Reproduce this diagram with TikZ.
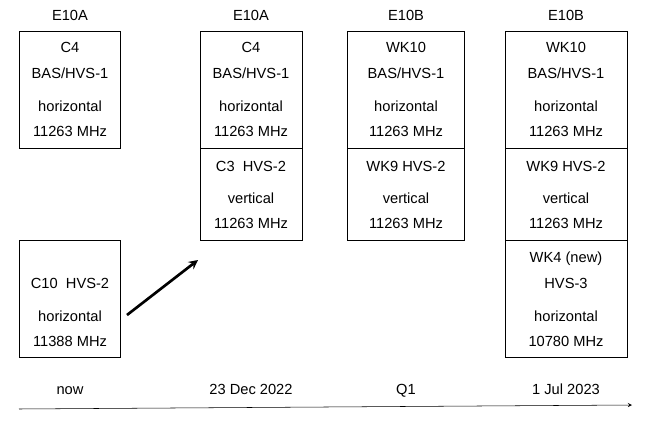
\documentclass[tikz,border=0pt]{standalone}
\usepackage{fontspec}
\setmainfont{Liberation Sans}
\begin{document}
\begin{tikzpicture}[x=0.75pt,y=-0.75pt,
  box/.style={draw,thin,inner sep=0},
  t/.style={font=\fontsize{11pt}{13pt}\selectfont,inner sep=0,anchor=base}]
\useasboundingbox[fill=white] (0,0) rectangle (665,425);
% column 1
\node[box,minimum width=101*0.75pt,minimum height=117*0.75pt,anchor=north west] (a1) at (19,31) {};
\node[box,minimum width=101*0.75pt,minimum height=117*0.75pt,anchor=north west] (a2) at (19,240) {};
% column 2
\node[box,minimum width=102*0.75pt,minimum height=117*0.75pt,anchor=north west] (b1) at (200,31) {};
\node[box,minimum width=102*0.75pt,minimum height=92*0.75pt,anchor=north west] (b2) at (200,148) {};
% column 3
\node[box,minimum width=117*0.75pt,minimum height=117*0.75pt,anchor=north west] (c1) at (347,31) {};
\node[box,minimum width=117*0.75pt,minimum height=92*0.75pt,anchor=north west] (c2) at (347,148) {};
% column 4
\node[box,minimum width=122*0.75pt,minimum height=117*0.75pt,anchor=north west] (d1) at (505,31) {};
\node[box,minimum width=122*0.75pt,minimum height=92*0.75pt,anchor=north west] (d2) at (505,148) {};
\node[box,minimum width=122*0.75pt,minimum height=117*0.75pt,anchor=north west] (d3) at (505,240) {};
\coordinate (tk1) at (627,240); \coordinate (tk2) at (627,258);
\draw[thin] (tk1) -- (tk2);
% headers
\foreach \x/\s/\n in {70/E10A/h1,251/E10A/h2,406/E10B/h3,566/E10B/h4}
  \node[t] (\n) at (\x,20) {\s};
% texts
\foreach \x/\a/\b in {70/C4/a,251/C4/b,406/WK10/c,566/WK10/d}{
  \node[t] (\b t1) at (\x,52) {\a};
  \node[t] (\b t2) at (\x,78) {BAS/HVS-1};
  \node[t] (\b t3) at (\x,111) {horizontal};
  \node[t] (\b t4) at (\x,136) {11263 MHz};
}
\foreach \x/\a/\b in {251/{C3\ \ HVS-2}/b,406/{WK9 HVS-2}/c,566/{WK9 HVS-2}/d}{
  \node[t] (\b u1) at (\x,171) {\a};
  \node[t] (\b u2) at (\x,203) {vertical};
  \node[t] (\b u3) at (\x,228) {11263 MHz};
}
\node[t] (av1) at (70,288) {C10\ \ HVS-2};
\node[t] (av2) at (70,321) {horizontal};
\node[t] (av3) at (70,346) {11388 MHz};
\node[t] (dv1) at (566,262) {WK4 (new)};
\node[t] (dv2) at (566,288) {HVS-3};
\node[t] (dv3) at (566,321) {horizontal};
\node[t] (dv4) at (566,346) {10780 MHz};
% timeline
\foreach \x/\s/\n in {70/now/l1,251/23 Dec 2022/l2,406/Q1/Q2 2023/l3,566/1 Jul 2023/l4}
  \node[t] (\n) at (\x,394) {\s};
\coordinate (s0) at (19,409); \coordinate (s1) at (632,405);
\draw[thin,-stealth] (s0) -- (s1);
\coordinate (m0) at (127,315); \coordinate (m1) at (198,260);
\draw[line width=2pt,-stealth] (m0) -- (m1);
\end{tikzpicture}
\end{document}
